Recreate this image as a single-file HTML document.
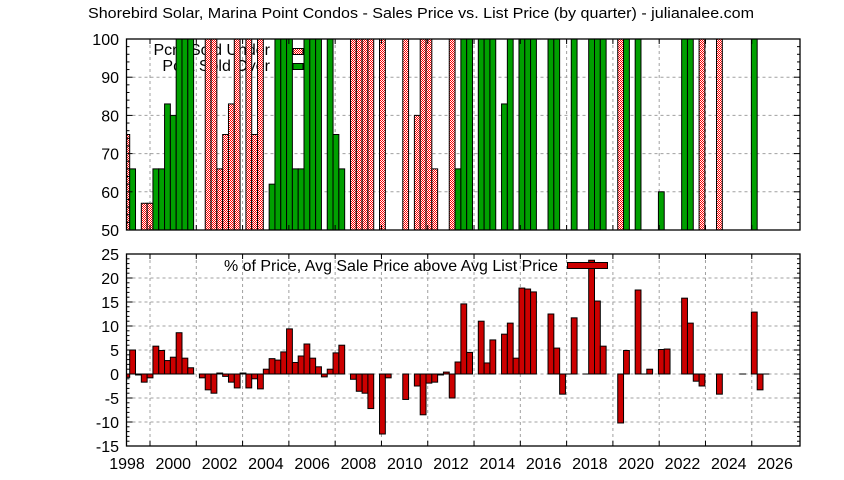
<!DOCTYPE html>
<html><head><meta charset="utf-8"><style>
html,body{margin:0;padding:0;background:#fff;}
svg{display:block;font-family:"Liberation Sans",Arial,sans-serif;}
</style></head><body>
<svg id="s" width="844" height="480" xmlns="http://www.w3.org/2000/svg">
<defs>
<pattern id="chk" width="2" height="2" patternUnits="userSpaceOnUse">
<rect width="2" height="2" fill="#fff"/><rect width="1" height="1" fill="#f00"/><rect x="1" y="1" width="1" height="1" fill="#f00"/>
</pattern>
<clipPath id="c1"><rect x="126.5" y="39" width="673.5" height="191"/></clipPath>
<clipPath id="c2"><rect x="126.5" y="254" width="673.5" height="192"/></clipPath>
</defs>
<text x="421" y="18" font-size="15" text-anchor="middle" textLength="666" lengthAdjust="spacingAndGlyphs" fill="#000">Shorebird Solar, Marina Point Condos - Sales Price vs. List Price (by quarter) - julianalee.com</text>
<g id="grid" stroke="#a0a0a0" stroke-width="1" stroke-dasharray="3,3" fill="none"></g>
<g font-size="16" fill="#000">
<text x="270" y="55" text-anchor="end">Pcnt Sold Under</text>
<text x="270" y="71" text-anchor="end">Pcnt Sold Over</text>
<text x="224" y="271" textLength="334" lengthAdjust="spacingAndGlyphs">% of Price, Avg Sale Price above Avg List Price</text>
</g>
<g id="bars" stroke="#000" stroke-width="1"></g>
<rect x="293" y="48.5" width="10" height="6" fill="url(#chk)" stroke="#000"/>
<rect x="293" y="63.5" width="10" height="6" fill="#00a000" stroke="#000"/>
<rect x="567.5" y="262.5" width="40" height="6" fill="#cc0000" stroke="#000"/>
<g id="ticks" stroke="#000" stroke-width="1"></g>
<rect x="126.5" y="39" width="673.5" height="191" fill="none" stroke="#000" stroke-width="1.3"/>
<rect x="126.5" y="254" width="673.5" height="192" fill="none" stroke="#000" stroke-width="1.3"/>
<g id="lab" font-size="16" fill="#000"></g>
</svg>
<script>
(function(){
var NS="http://www.w3.org/2000/svg";
function el(p,t,a,txt){var e=document.createElementNS(NS,t);for(var k in a)e.setAttribute(k,a[k]);if(txt!=null)e.textContent=txt;(typeof p=="string"?document.getElementById(p):p).appendChild(e);return e;}
var L=126.5,R=800,T1=39,B1=230,T2=254,B2=446;
function yt(v){return B1-(v-50)*3.82;}
function yb(v){return 374-v*4.8;}
for(var k=0;k<14;k++){var x=150+46.29*k;el("grid","line",{x1:x,y1:T1,x2:x,y2:B1});el("grid","line",{x1:x,y1:T2,x2:x,y2:B2});}
[60,70,80,90].forEach(function(v){el("grid","line",{x1:L,y1:yt(v),x2:R,y2:yt(v)});});
[20,15,10,5,0,-5,-10].forEach(function(v){el("grid","line",{x1:L,y1:yb(v),x2:R,y2:yb(v)});});
var topD={0:"R75",1:"G66",3:"R57",4:"R57",5:"G66",6:"G66",7:"G83",8:"G80",9:"G100",10:"G100",11:"G100",14:"R100",15:"R100",16:"R66",17:"R75",18:"R83",19:"R100",21:"R100",22:"R75",23:"R100",25:"G62",26:"G100",27:"G100",28:"G100",29:"G66",30:"G66",31:"G100",32:"G100",33:"G100",35:"G100",36:"G75",37:"G66",39:"R100",40:"R100",41:"R100",42:"R100",44:"R100",48:"R100",50:"R80",51:"R100",52:"R100",53:"R66",56:"R100",57:"G66",58:"G100",59:"G100",61:"G100",62:"G100",63:"G100",65:"G83",66:"G100",68:"G100",69:"G100",70:"G100",73:"G100",74:"G100",77:"G100",80:"G100",81:"G100",82:"G100",85:"R100",86:"G100",88:"G100",92:"G60",96:"G100",97:"G100",99:"R100",102:"R100",108:"G100"};
var g1=el("bars","g",{"clip-path":"url(#c1)"});
function xs(i){return 123.89+5.81*i;}
for(var i in topD){var s=topD[i],c=s[0],v=+s.slice(1);var y=yt(v);
el(g1,"rect",{x:xs(+i),y:y,width:5.81,height:B1-y+2,fill:c=="R"?"url(#chk)":"#00a000"});}
var bot={0:-0.7,1:5.0,2:-0.2,3:-1.7,4:-0.8,5:5.8,6:4.9,7:2.8,8:3.5,9:8.6,10:3.3,11:1.3,13:-0.8,14:-3.3,15:-4.0,16:0.2,17:-0.5,18:-1.7,19:-2.9,20:0.2,21:-2.9,22:-1.0,23:-3.1,24:1.0,25:3.2,26:2.9,27:4.6,28:9.4,29:2.4,30:3.75,31:6.25,32:3.3,33:1.5,34:-0.6,35:1.0,36:4.4,37:6.0,39:-1.1,40:-3.6,41:-4.0,42:-7.2,44:-12.5,45:-0.8,48:-5.3,50:-2.5,51:-8.5,52:-1.9,53:-1.7,54:-0.2,55:0.4,56:-5.0,57:2.5,58:14.6,59:4.5,61:11.0,62:2.3,63:7.1,65:8.3,66:10.6,67:3.3,68:17.9,69:17.7,70:17.1,73:12.5,74:5.4,75:-4.2,76:0,77:11.7,79:0,80:23.7,81:15.2,82:5.8,85:-10.2,86:4.9,88:17.5,89:0,90:1.0,92:5.1,93:5.2,96:15.8,97:10.6,98:-1.5,99:-2.5,102:-4.2,106:0,108:12.9,109:-3.3,110:0};
var g2=el("bars","g",{"clip-path":"url(#c2)"});
for(var i in bot){var v=bot[i],y0=yb(0),y=yb(v);
el(g2,"rect",{x:xs(+i),y:Math.min(y,y0),width:5.81,height:Math.max(Math.abs(y-y0),0.01),fill:"#cc0000"});}
function tk(x1,y1,x2,y2){el("ticks","line",{x1:x1,y1:y1,x2:x2,y2:y2});}
for(var v=50;v<=100;v+=2){var y=yt(v),m=(v%10==0)?6:3;tk(L,y,L+m,y);tk(R,y,R-m,y);}
for(var v=-15;v<=25;v+=1){var y=yb(v),m=(v%5==0)?6:3;tk(L,y,L+m,y);tk(R,y,R-m,y);}
for(var k=0;k<14;k++){var x=150+46.29*k;tk(x,B1,x,B1-5);tk(x,T1,x,T1+5);tk(x,B2,x,B2-5);tk(x,T2,x,T2+5);}
[100,90,80,70,60,50].forEach(function(v){el("lab","text",{x:119,y:yt(v)+6,"text-anchor":"end"},v);});
[25,20,15,10,5,0,-5,-10,-15].forEach(function(v){el("lab","text",{x:119,y:yb(v)+6,"text-anchor":"end"},v);});
for(var k=0;k<15;k++){el("lab","text",{x:127+46.29*k,y:469,"text-anchor":"middle"},1998+2*k);}
})();
</script>
</body></html>
